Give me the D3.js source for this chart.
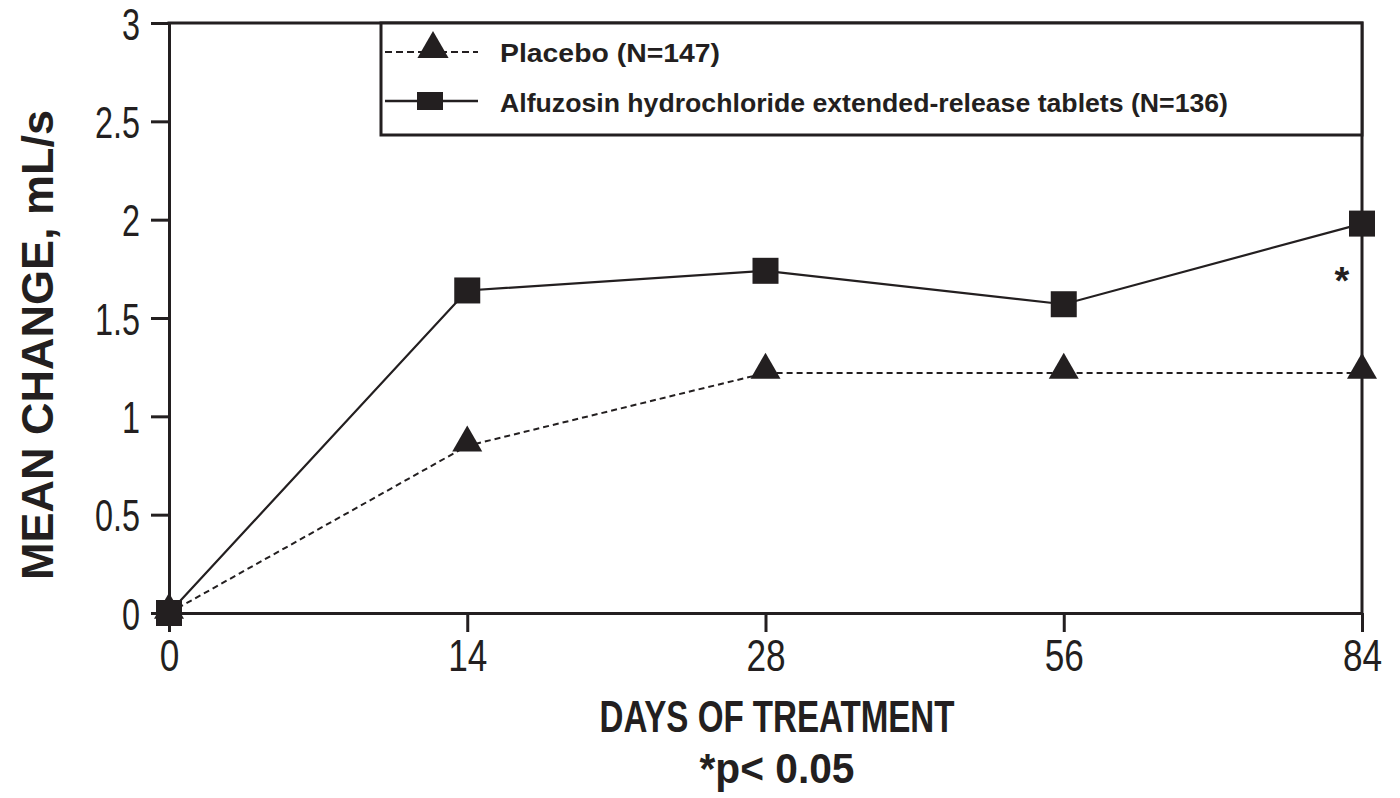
<!DOCTYPE html>
<html>
<head>
<meta charset="utf-8">
<script src="https://cdn.jsdelivr.net/npm/d3@7"></script>
<style>
  html, body { margin: 0; padding: 0; background: #fff; }
  svg { display: block; }
  text { font-family: "Liberation Sans", Arial, sans-serif; fill: #231f20; }
</style>
</head>
<body>
<svg id="chart" width="1400" height="798"></svg>
<script>
// ---- data ----
const days = ["0", "14", "28", "56", "84"];
const placebo = [0, 0.85, 1.22, 1.22, 1.22];
const alfuzosin = [0, 1.64, 1.74, 1.57, 1.98];
const yTicks = [0, 0.5, 1, 1.5, 2, 2.5, 3];
const seriesNames = ["Placebo (N=147)", "Alfuzosin hydrochloride extended-release tablets (N=136)"];
const xTitle = "DAYS OF TREATMENT";
const yTitle = "MEAN CHANGE, mL/s";
const footnote = "*p< 0.05";
const sigMark = "*";

// ---- layout ----
const svg = d3.select("#chart");
const plotL = 169, plotR = 1362, plotT = 23, plotB = 613;
const ink = "#231f20";

const x = d3.scalePoint().domain(days).range([plotL, plotR]);
const y = d3.scaleLinear().domain([0, 3]).range([plotB, plotT]);

function condense(sel, f) {
  sel.each(function () {
    const w = this.getComputedTextLength();
    this.setAttribute("textLength", w * f);
    this.setAttribute("lengthAdjust", "spacingAndGlyphs");
  });
}
function fit(sel, w) {
  sel.attr("textLength", w).attr("lengthAdjust", "spacingAndGlyphs");
}

// Y axis
const gy = svg.append("g").attr("transform", `translate(${plotL},0)`)
  .call(d3.axisLeft(y).tickValues(yTicks).tickFormat(d3.format("~g")).tickSize(18).tickSizeOuter(0).tickPadding(11));
gy.select(".domain").attr("stroke", ink).attr("stroke-width", 3);
gy.selectAll(".tick line").attr("stroke", ink).attr("stroke-width", 3);
gy.selectAll(".tick text").attr("font-size", 45).attr("fill", ink).attr("dy", "0.36em")
  .style("font-family", "'Liberation Sans', Arial, sans-serif").call(condense, 0.72);

// X axis
const gx = svg.append("g").attr("transform", `translate(0,${plotB})`)
  .call(d3.axisBottom(x).tickSize(19).tickSizeOuter(0).tickPadding(8));
gx.select(".domain").attr("stroke", ink).attr("stroke-width", 3);
gx.selectAll(".tick line").attr("stroke", ink).attr("stroke-width", 3);
gx.selectAll(".tick text").attr("font-size", 44).attr("fill", ink)
  .style("font-family", "'Liberation Sans', Arial, sans-serif").call(condense, 0.8);

// frame top + right
svg.append("path")
  .attr("d", `M${plotL - 1.5},${plotT}H${plotR}V${plotB}`)
  .attr("fill", "none").attr("stroke", ink).attr("stroke-width", 3);

// legend box
const lg = svg.append("g");
lg.append("rect").attr("x", 381).attr("y", plotT).attr("width", plotR - 381).attr("height", 112)
  .attr("fill", "#fff").attr("stroke", ink).attr("stroke-width", 3);

// lines
const line = d3.line().x((d, i) => x(days[i])).y(d => y(d));
svg.append("path").datum(placebo).attr("d", line)
  .attr("fill", "none").attr("stroke", ink).attr("stroke-width", 2).attr("stroke-dasharray", "6,4");
svg.append("path").datum(alfuzosin).attr("d", line)
  .attr("fill", "none").attr("stroke", ink).attr("stroke-width", 2.2);

// markers
const tri = d3.symbol().type(d3.symbolTriangle).size(390);
svg.append("g").selectAll("path").data(placebo).join("path")
  .attr("d", tri).attr("fill", ink)
  .attr("transform", (d, i) => `translate(${x(days[i])},${y(d) - 3})`);
svg.append("g").selectAll("rect").data(alfuzosin).join("rect")
  .attr("x", (d, i) => x(days[i]) - 13).attr("y", d => y(d) - 13)
  .attr("width", 26).attr("height", 26).attr("fill", ink);

// legend entries
const legY = [52, 101];
lg.append("line").attr("x1", 385).attr("x2", 478).attr("y1", legY[0]).attr("y2", legY[0])
  .attr("stroke", ink).attr("stroke-width", 2).attr("stroke-dasharray", "7,4");
lg.append("path").attr("d", d3.symbol().type(d3.symbolTriangle).size(420))
  .attr("transform", `translate(433,${legY[0] - 3})`).attr("fill", ink);
lg.append("line").attr("x1", 385).attr("x2", 478).attr("y1", legY[1]).attr("y2", legY[1])
  .attr("stroke", ink).attr("stroke-width", 2.5);
lg.append("rect").attr("x", 417).attr("y", legY[1] - 9).attr("width", 26).attr("height", 18).attr("fill", ink);
lg.append("text").attr("x", 500).attr("y", 62).attr("font-size", 26).attr("font-weight", "bold")
  .text(seriesNames[0]).call(fit, 220);
lg.append("text").attr("x", 500).attr("y", 112).attr("font-size", 26).attr("font-weight", "bold")
  .text(seriesNames[1]).call(fit, 728);

// significance mark
svg.append("text").attr("x", x("84") - 20).attr("y", y(alfuzosin[4]) + 70)
  .attr("text-anchor", "middle").attr("font-size", 38).attr("font-weight", "bold").text(sigMark);

// axis titles
svg.append("text").attr("x", 777).attr("y", 732).attr("text-anchor", "middle")
  .attr("font-size", 44).attr("font-weight", "bold").text(xTitle).call(fit, 355);
svg.append("text").attr("x", 777).attr("y", 783).attr("text-anchor", "middle")
  .attr("font-size", 43).attr("font-weight", "bold").text(footnote).call(fit, 155);
svg.append("text").attr("transform", "translate(53,345) rotate(-90)").attr("text-anchor", "middle")
  .attr("font-size", 45).attr("font-weight", "bold").text(yTitle).call(fit, 470);
</script>
</body>
</html>
